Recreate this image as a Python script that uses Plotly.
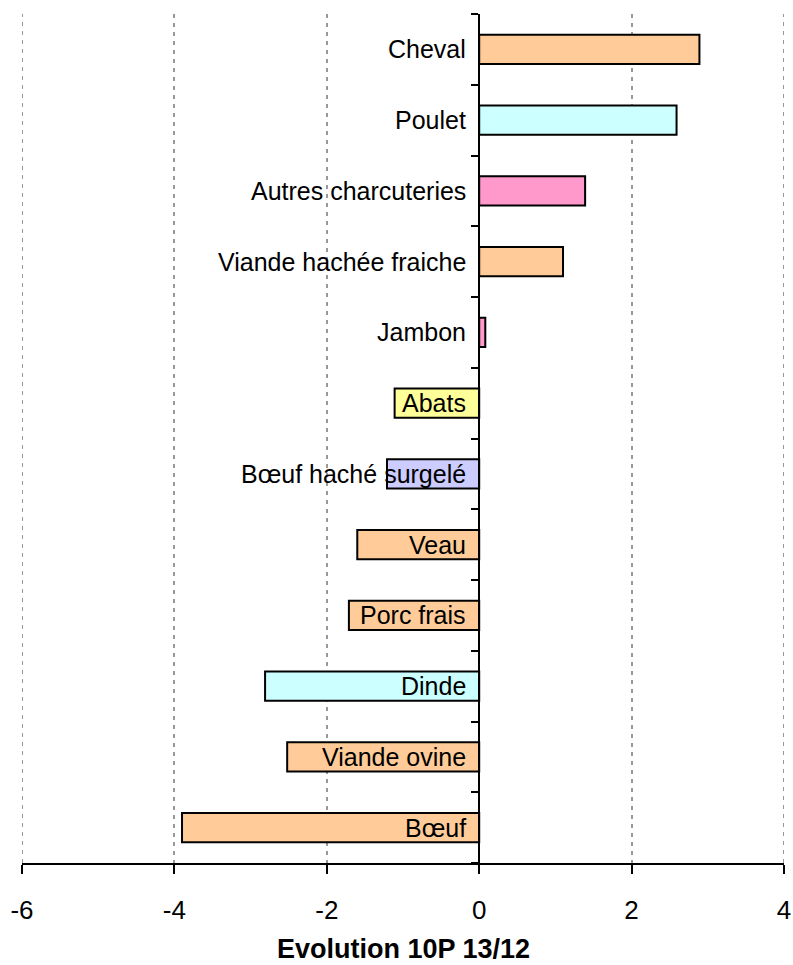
import plotly.graph_objects as go

categories = ["Bœuf", "Viande ovine", "Dinde", "Porc frais", "Veau",
              "Bœuf haché surgelé", "Abats", "Jambon", "Viande hachée fraiche",
              "Autres charcuteries", "Poulet", "Cheval"]
values = [-3.9, -2.52, -2.81, -1.71, -1.6, -1.21, -1.11, 0.08, 1.1, 1.39, 2.59, 2.89]
colors = ["#FFCC99", "#FFCC99", "#CCFFFF", "#FFCC99", "#FFCC99",
          "#CCCCFF", "#FFFF99", "#FF99CC", "#FFCC99", "#FF99CC", "#CCFFFF", "#FFCC99"]
x_ticks = [-6, -4, -2, 0, 2, 4]
x_title = "Evolution 10P 13/12"

pos = list(range(len(categories)))
FONT = "Liberation Sans, Arial"
GRID = dict(color="#999999", width=2, dash="4px,5px")

fig = go.Figure()
fig.add_trace(go.Bar(
    x=values, y=pos, orientation="h", width=0.41,
    marker=dict(color=colors, line=dict(color="black", width=2)),
    hoverinfo="skip",
))

# grid lines at the two range ends (Plotly hides edge grid lines)
for xv in (x_ticks[0], x_ticks[-1]):
    fig.add_shape(type="line", xref="x", yref="paper", x0=xv, x1=xv, y0=0, y1=1,
                  line=GRID, layer="below")

for p, c in zip(pos, categories):
    fig.add_annotation(x=0, y=p, text=c, showarrow=False, xanchor="right",
                       yanchor="middle", xshift=-11,
                       font=dict(family=FONT, size=25, color="black"))

fig.add_annotation(x=0.5, y=-86 / 849, xref="paper", yref="paper",
                   text="<b>" + x_title + "</b>", showarrow=False,
                   xanchor="center", yanchor="middle", borderpad=0,
                   font=dict(family=FONT, size=27, color="black"))

fig.update_layout(
    width=793, height=965,
    margin=dict(l=22, r=9, t=14, b=102),
    paper_bgcolor="white", plot_bgcolor="white",
    showlegend=False,
    font=dict(family=FONT, size=25, color="black"),
    xaxis=dict(
        range=[-6, 4], tickvals=x_ticks, ticktext=[str(t) for t in x_ticks],
        showgrid=True, gridcolor=GRID["color"], gridwidth=GRID["width"],
        griddash=GRID["dash"],
        zeroline=False, showline=True, linecolor="black", linewidth=2,
        ticks="outside", ticklen=9, tickwidth=2, tickcolor="black",
        tickfont=dict(size=26), ticklabelstandoff=14,
        automargin=False,
    ),
    yaxis=dict(
        range=[-0.5, len(categories) - 0.5],
        tickvals=[k - 0.5 for k in range(len(categories) + 1)],
        showticklabels=False,
        anchor="free", position=0.6,
        showgrid=False, zeroline=False,
        showline=True, linecolor="black", linewidth=2,
        ticks="outside", ticklen=7, tickwidth=2, tickcolor="black",
        automargin=False,
    ),
)

fig.write_html(
    "out.html",
    config={"displayModeBar": False, "staticPlot": True},
    post_script="document.body.style.margin='0';document.body.style.overflow='hidden';",
)
